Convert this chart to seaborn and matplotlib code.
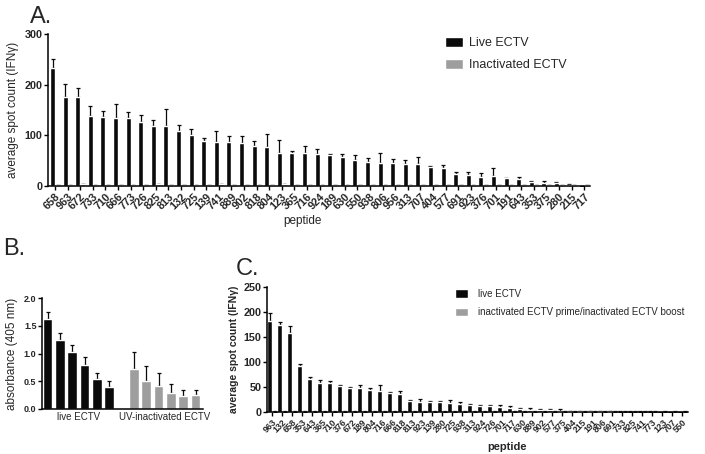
#!/usr/bin/env python3
"""
ECTV peptide ELISPOT / ELISA 패널 그림 (A, B, C)
"""

import numpy as np
import pandas as pd
import matplotlib
matplotlib.use("Agg")
import matplotlib.pyplot as plt
import seaborn as sns

# ---------------------------------------------------------------
# [데이터] 그림에서 읽은 값
# ---------------------------------------------------------------
peptides_a = ["658", "963", "672", "733", "710", "666", "773", "726", "825", "813",
              "132", "725", "139", "741", "889", "902", "818", "804", "123", "365",
              "716", "924", "189", "630", "550", "938", "806", "956", "313", "707",
              "404", "577", "691", "923", "376", "701", "191", "643", "353", "375",
              "280", "215", "717"]
live_a = [233, 175, 175, 138, 136, 134, 134, 127, 118, 118,
          109, 101, 89, 87, 86, 84, 78, 76, 66, 65,
          65, 63, 61, 58, 52, 47, 45, 45, 43, 43,
          37, 36, 24, 22, 18, 19, 16, 14, 7, 5,
          5, 2, 0]
live_a_err = [17, 26, 18, 19, 12, 28, 13, 14, 12, 33,
              11, 12, 6, 21, 13, 15, 11, 27, 25, 5,
              14, 11, 3, 6, 10, 8, 21, 8, 9, 14,
              3, 5, 4, 6, 7, 16, 0, 4, 3, 5,
              2, 1, 0]
inact_a = [1, 1, 3, 1, 1, 1.5, 1, 1, 3, 1,
           1, 1, 1, 3, 1, 1, 1, 1, 3, 1,
           1, 1, 1, 1, 1, 1, 1, 1, 1, 1,
           1, 1, 1, 1, 1, 1, 1, 1, 1, 1,
           1, 1, 1]
inact_a_err = [0.5] * len(peptides_a)

groups_b = ["live ECTV", "UV-inactivated ECTV"]
live_b = [1.62, 1.24, 1.02, 0.79, 0.54, 0.40]
live_b_err = [0.13, 0.13, 0.14, 0.14, 0.10, 0.11]
uv_b = [0.72, 0.50, 0.42, 0.29, 0.23, 0.26]
uv_b_err = [0.31, 0.27, 0.22, 0.16, 0.11, 0.08]

peptides_c = ["963", "132", "658", "353", "643", "365", "710", "376", "672", "189",
              "804", "716", "666", "818", "813", "923", "139", "280", "725", "938",
              "313", "924", "726", "701", "717", "630", "889", "902", "577", "375",
              "404", "215", "191", "806", "691", "733", "825", "741", "773", "123",
              "707", "550"]
live_c = [183, 175, 158, 92, 67, 58, 58, 53, 49, 48,
          44, 42, 39, 36, 22, 21, 20, 20, 19, 16,
          14, 13, 12, 10, 9, 6, 5, 5, 4, 3,
          2, 2, 2, 2, 2, 1, 1, 1, 1, 0.5,
          0.5, 0.5]
live_c_err = [16, 6, 15, 4, 3, 7, 5, 2, 2, 7,
              5, 12, 2, 6, 3, 5, 3, 2, 5, 5,
              3, 2, 3, 5, 3, 2, 3, 2, 2, 4,
              1, 1, 1, 1, 1, 1, 1, 1, 1, 0.5,
              0.5, 0.5]
inact_c = [1] * len(peptides_c)
inact_c_err = [0.5] * len(peptides_c)

BLACK = "#0a0a0a"
GRAY = "#9e9e9e"

sns.set_theme(style="ticks")
plt.rcParams["font.family"] = ["Liberation Sans", "DejaVu Sans"]

W, H = 705, 454
fig = plt.figure(figsize=(W / 100, H / 100), dpi=100)


def px_rect(left, right, top, bottom):
    # 픽셀 좌표 -> figure 비율 좌표
    return [left / W, 1 - bottom / H, (right - left) / W, (bottom - top) / H]


def add_upper_err(ax, container, err):
    xs = [p.get_x() + p.get_width() / 2 for p in container.patches]
    ys = [p.get_height() for p in container.patches]
    ax.errorbar(xs, ys, yerr=[np.zeros(len(err)), err], fmt="none",
                ecolor=BLACK, elinewidth=0.9, capsize=1.5, capthick=0.9, zorder=1)


def style_axes(ax):
    sns.despine(ax=ax)
    for s in ["left", "bottom"]:
        ax.spines[s].set_linewidth(1.1)
        ax.spines[s].set_color("black")
    ax.tick_params(axis="both", length=3, width=1.0, color="black", pad=1)


# ---------------------------------------------------------------
# Panel A
# ---------------------------------------------------------------
df_a = pd.DataFrame({
    "peptide": peptides_a * 2,
    "value": live_a + inact_a,
    "group": ["Live ECTV"] * len(peptides_a) + ["Inactivated ECTV"] * len(peptides_a),
})
ax_a = fig.add_axes(px_rect(48, 590, 34, 186))
sns.barplot(data=df_a, x="peptide", y="value", hue="group", order=peptides_a,
            palette=[BLACK, GRAY], width=0.8, gap=0, errorbar=None,
            saturation=1, ax=ax_a, zorder=2)
add_upper_err(ax_a, ax_a.containers[0], live_a_err)
add_upper_err(ax_a, ax_a.containers[1], inact_a_err)
ax_a.set_ylim(0, 300)
ax_a.set_yticks([0, 100, 200, 300])
ax_a.set_xlim(-0.56, 42.46)
style_axes(ax_a)
ax_a.set_xticks(range(len(peptides_a)))
ax_a.set_xticklabels(peptides_a, rotation=45, ha="right", rotation_mode="anchor",
                     fontsize=7.8, fontweight="bold")
for lab in ax_a.get_yticklabels():
    lab.set_fontsize(7.8)
    lab.set_fontweight("bold")
ax_a.set_ylabel("average spot count (IFNγ)", fontsize=8.5, labelpad=4)
ax_a.set_xlabel("peptide", fontsize=8.5, labelpad=4)
ax_a.xaxis.set_label_coords(0.47, -0.19)
h, l = ax_a.get_legend_handles_labels()
ax_a.get_legend().remove()
fig.legend(h, l, loc="upper left", bbox_to_anchor=(445 / W, 1 - 37 / H),
           frameon=False, fontsize=9, handlelength=1.45, handleheight=0.9,
           handletextpad=0.5, labelspacing=0.75, borderpad=0, borderaxespad=0)
fig.text(30 / W, 1 - 6 / H, "A.", fontsize=17, va="top", ha="left")

# ---------------------------------------------------------------
# Panel B
# ---------------------------------------------------------------
slots = [f"L{i}" for i in range(6)] + ["gap"] + [f"U{i}" for i in range(6)]
df_b = pd.DataFrame({
    "slot": [f"L{i}" for i in range(6)] + [f"U{i}" for i in range(6)],
    "value": live_b + uv_b,
    "group": [groups_b[0]] * 6 + [groups_b[1]] * 6,
})
ax_b = fig.add_axes(px_rect(42, 203, 298, 409))
sns.barplot(data=df_b, x="slot", y="value", hue="group", order=slots,
            palette=[BLACK, GRAY], dodge=False, width=0.78, errorbar=None,
            saturation=1, legend=False, ax=ax_b, zorder=2)
add_upper_err(ax_b, ax_b.containers[0], live_b_err)
add_upper_err(ax_b, ax_b.containers[1], uv_b_err)
ax_b.set_ylim(0, 2.0)
ax_b.set_yticks([0, 0.5, 1.0, 1.5, 2.0])
ax_b.set_yticklabels(["0.0", "0.5", "1.0", "1.5", "2.0"], fontsize=6.5, fontweight="bold")
ax_b.set_xlim(-0.45, 12.6)
style_axes(ax_b)
ax_b.set_xticks([2.5, 9.5])
ax_b.set_xticklabels(groups_b, fontsize=7)
ax_b.tick_params(axis="x", length=0, pad=2)
ax_b.set_xlabel("")
ax_b.set_ylabel("absorbance (405 nm)", fontsize=8.5, labelpad=4)
fig.text(3 / W, 1 - 238 / H, "B.", fontsize=17, va="top", ha="left")

# ---------------------------------------------------------------
# Panel C
# ---------------------------------------------------------------
df_c = pd.DataFrame({
    "peptide": peptides_c * 2,
    "value": live_c + inact_c,
    "group": ["live ECTV"] * len(peptides_c)
             + ["inactivated ECTV prime/inactivated ECTV boost"] * len(peptides_c),
})
ax_c = fig.add_axes(px_rect(267, 688, 287, 412))
sns.barplot(data=df_c, x="peptide", y="value", hue="group", order=peptides_c,
            palette=[BLACK, GRAY], width=1.0, gap=0, errorbar=None,
            saturation=1, ax=ax_c, zorder=2)
add_upper_err(ax_c, ax_c.containers[0], live_c_err)
add_upper_err(ax_c, ax_c.containers[1], inact_c_err)
ax_c.set_ylim(0, 250)
ax_c.set_yticks([0, 50, 100, 150, 200, 250])
ax_c.set_xlim(-0.5, 41.55)
style_axes(ax_c)
ax_c.set_xticks(range(len(peptides_c)))
ax_c.set_xticklabels(peptides_c, rotation=45, ha="right", rotation_mode="anchor",
                     fontsize=6.4, fontweight="bold")
for lab in ax_c.get_yticklabels():
    lab.set_fontsize(7.8)
    lab.set_fontweight("bold")
ax_c.set_ylabel("average spot count (IFNγ)", fontsize=7.5, fontweight="bold", labelpad=3)
ax_c.set_xlabel("peptide", fontsize=8, fontweight="bold")
ax_c.xaxis.set_label_coords(0.57, -0.24)
h, l = ax_c.get_legend_handles_labels()
ax_c.get_legend().remove()
fig.legend(h, l, loc="upper left", bbox_to_anchor=(455 / W, 1 - 289 / H),
           frameon=False, fontsize=7, handlelength=1.35, handleheight=1.0,
           handletextpad=1.0, labelspacing=0.85, borderpad=0, borderaxespad=0)
fig.text(236 / W, 1 - 258 / H, "C.", fontsize=17, va="top", ha="left")

fig.savefig("out.png", dpi=100)
